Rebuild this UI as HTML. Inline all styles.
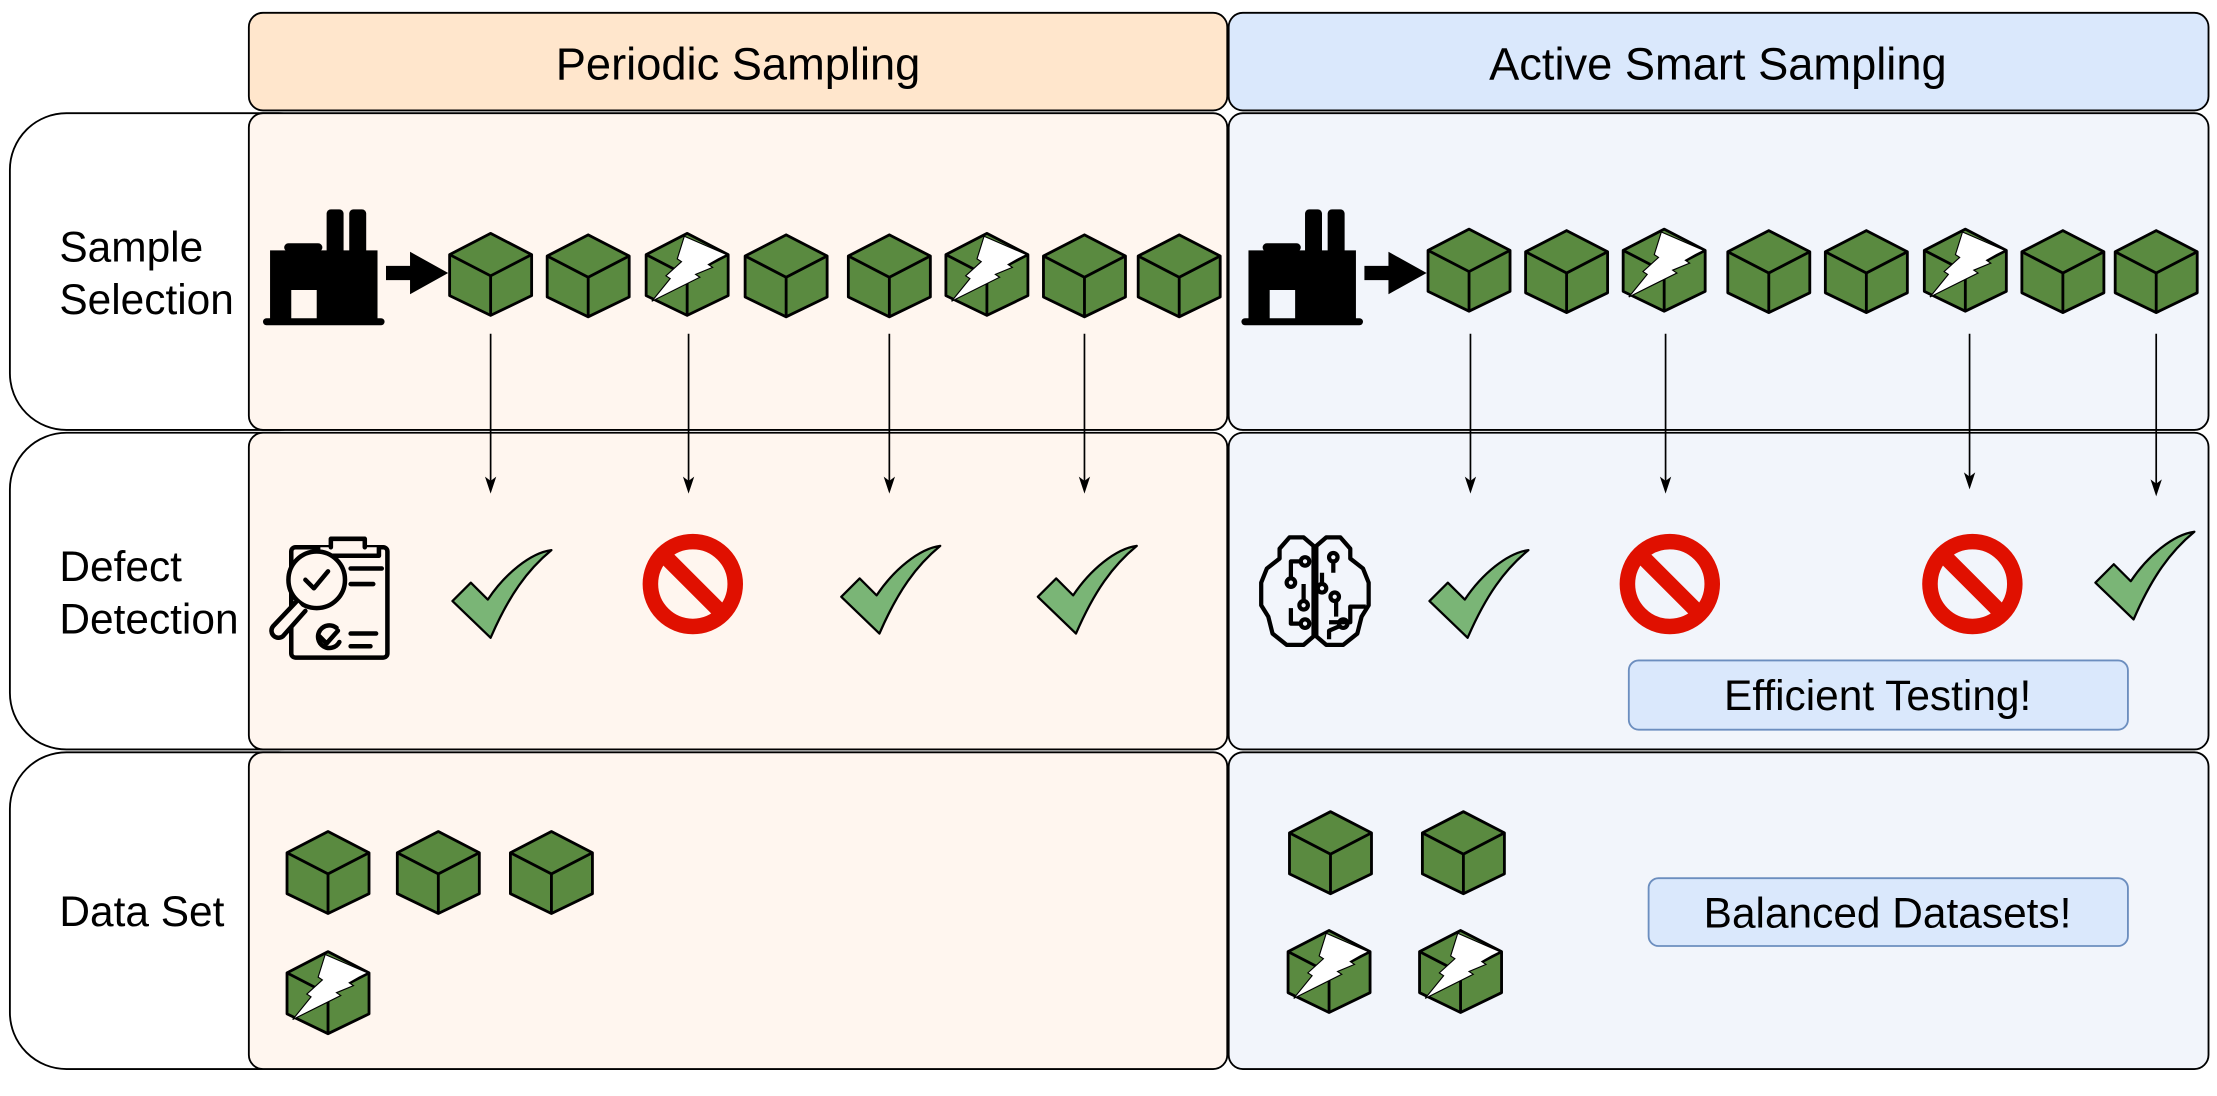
<!DOCTYPE html>
<html><head><meta charset="utf-8"><style>
html,body{margin:0;padding:0;background:#fff;}
svg{display:block;}
text{font-family:"Liberation Sans",Arial,sans-serif;fill:#000;}
</style></head><body>
<svg width="2217" height="1096" viewBox="0 0 1568 775" xmlns="http://www.w3.org/2000/svg">
<defs>
<g id="cube">
<polygon points="0,-29 29,-14 29,15 0,29 -29,15 -29,-14" fill="#5a8a40" stroke="#000" stroke-width="2" stroke-linejoin="round"/>
<polyline points="-29,-14 0,1 29,-14" fill="none" stroke="#000" stroke-width="2"/>
<line x1="0" y1="1" x2="0" y2="29" stroke="#000" stroke-width="2"/>
</g>
<g id="ccube">
<use href="#cube"/>
<polygon points="-2,-27 28,-14 22,-11 15,-7 18,-5 6,0 9,2 -25,19 -12,3 -15,1 -4,-9 -7,-11" fill="#fff" stroke="#000" stroke-width="0.8"/>
</g>
<g id="check">
<path d="M-35,4 L-22,-9 L-10,3 C2,-15 20,-30 35,-32 C18,-18 5,0 -8,30 Z" fill="#7ab576" stroke="#000" stroke-width="1.6" stroke-linejoin="round"/>
</g>
<g id="no">
<circle cx="0" cy="0" r="30" fill="none" stroke="#e01000" stroke-width="11"/>
<line x1="-21" y1="-21" x2="21" y2="21" stroke="#e01000" stroke-width="11"/>
</g>
<g id="factory" fill="#000">
<rect x="45" y="0" width="12" height="32" rx="3"/>
<rect x="61" y="0" width="12" height="32" rx="3"/>
<rect x="15" y="24" width="27" height="6" rx="3"/>
<path d="M5,29 H81 V79 H5 Z M20,57 V79 H38 V57 Z" fill-rule="evenodd"/>
<rect x="0" y="77" width="86" height="5" rx="2.5"/>
</g>
<g id="ah"><path d="M-4,-12 L0,0 L4,-12 L0,-9 Z" fill="#000"/></g>
</defs>

<!-- row labels -->
<g fill="#fff" stroke="#000" stroke-width="1.3">
<rect x="7" y="80" width="230" height="224" rx="40"/>
<rect x="7" y="306" width="230" height="224" rx="40"/>
<rect x="7" y="532" width="230" height="224" rx="40"/>
</g>
<!-- headers -->
<rect x="176" y="9" width="692" height="69" rx="10" fill="#ffe6cc" stroke="#000" stroke-width="1.3"/>
<rect x="869" y="9" width="693" height="69" rx="10" fill="#dae8fc" stroke="#000" stroke-width="1.3"/>
<text x="522" y="56" font-size="32" text-anchor="middle">Periodic Sampling</text>
<text x="1215" y="56" font-size="32" text-anchor="middle">Active Smart Sampling</text>
<!-- panels -->
<g stroke="#000" stroke-width="1.3">
<rect x="176" y="80" width="692" height="224" rx="10" fill="#fff6ef"/>
<rect x="176" y="306" width="692" height="224" rx="10" fill="#fff6ef"/>
<rect x="176" y="532" width="692" height="224" rx="10" fill="#fff6ef"/>
<rect x="869" y="80" width="693" height="224" rx="10" fill="#f2f5fb"/>
<rect x="869" y="306" width="693" height="224" rx="10" fill="#f2f5fb"/>
<rect x="869" y="532" width="693" height="224" rx="10" fill="#f2f5fb"/>
</g>
<g font-size="30">
<text x="42" y="185">Sample</text><text x="42" y="222">Selection</text>
<text x="42" y="411">Defect</text><text x="42" y="448">Detection</text>
<text x="42" y="655">Data Set</text>
</g>

<!-- row 1 -->
<use href="#factory" x="186" y="148"/>
<use href="#factory" x="878" y="148"/>
<path d="M273,188 H290 V178 L317,193 L290,208 V198 H273 Z" fill="#000"/>
<path d="M965,188 H982 V178 L1009,193 L982,208 V198 H965 Z" fill="#000"/>
<use href="#cube" x="347" y="194"/><use href="#cube" x="416" y="195"/><use href="#ccube" x="486" y="194"/>
<use href="#cube" x="556" y="195"/><use href="#cube" x="629" y="195"/><use href="#ccube" x="698" y="194"/>
<use href="#cube" x="767" y="195"/><use href="#cube" x="834" y="195"/>
<use href="#cube" x="1039" y="191"/><use href="#cube" x="1108" y="192"/><use href="#ccube" x="1177" y="191"/>
<use href="#cube" x="1251" y="192"/><use href="#cube" x="1320" y="192"/><use href="#ccube" x="1390" y="191"/>
<use href="#cube" x="1459" y="192"/><use href="#cube" x="1525" y="192"/>
<g stroke="#000" stroke-width="1.2">
<line x1="347" y1="236" x2="347" y2="340"/><line x1="487" y1="236" x2="487" y2="340"/>
<line x1="629" y1="236" x2="629" y2="340"/><line x1="767" y1="236" x2="767" y2="340"/>
<line x1="1040" y1="236" x2="1040" y2="340"/><line x1="1178" y1="236" x2="1178" y2="340"/>
<line x1="1393" y1="236" x2="1393" y2="338"/><line x1="1525" y1="236" x2="1525" y2="342"/>
</g>
<use href="#ah" x="347" y="349"/><use href="#ah" x="487" y="349"/><use href="#ah" x="629" y="349"/><use href="#ah" x="767" y="349"/>
<use href="#ah" x="1040" y="349"/><use href="#ah" x="1178" y="349"/><use href="#ah" x="1393" y="346"/><use href="#ah" x="1525" y="351"/>

<!-- row 2 -->
<g fill="none" stroke="#000" stroke-width="3.2" stroke-linecap="round" stroke-linejoin="round">
<rect x="206" y="387" width="68" height="78" rx="3"/>
<path d="M225,387 V393 H268 V387 M234,387 V381 H258 V387" fill="#fff6ef"/>
<circle cx="224" cy="410" r="20" fill="#fff6ef"/>
<path d="M216,410 L222,416 L232,404"/>
<path d="M210,425 L193,443 A5,5 0 0 0 200,450 L216,432" fill="#fff6ef"/>
<path d="M248,402 H270 M248,413 H264 M248,448 H266 M248,457 H262"/>
<path d="M238,444 A8,8 0 1 0 240,454 M226,450 L231,455 L239,446"/>
</g>
<g fill="none" stroke="#000" stroke-width="3" stroke-linejoin="round">
<path d="M929,386 L922,380 L912,380 L905,388 L905,395 L896,402 L892,412 L892,428 L897,436 L900,448 L910,456 L922,456 L929,450 Z"/>
<path d="M931,386 L938,380 L948,380 L955,388 L955,395 L964,402 L968,412 L968,428 L963,436 L960,448 L950,456 L938,456 L931,450 Z"/>
<path d="M930,386 V450"/>
<path d="M920,397 H913 V409 M922,413 V425 M913,430 V441 H920 M943,397 V405 M935,405 V413 M945,425 V436 M940,440 H955 V429 H966 M940,452 V446 L947,443"/>
<circle cx="923" cy="397" r="3"/><circle cx="913" cy="412" r="3"/><circle cx="922" cy="428" r="3"/><circle cx="923" cy="441" r="3"/>
<circle cx="943" cy="394" r="3"/><circle cx="935" cy="416" r="3"/><circle cx="944" cy="422" r="3"/><circle cx="950" cy="441" r="3"/>
</g>
<use href="#check" x="355" y="421"/><use href="#no" x="490" y="413"/>
<use href="#check" x="630" y="418"/><use href="#check" x="769" y="418"/>
<use href="#check" x="1046" y="421"/><use href="#no" x="1181" y="413"/>
<use href="#no" x="1395" y="413"/><use href="#check" x="1517" y="408"/>
<rect x="1152" y="467" width="353" height="49" rx="7" fill="#dae8fc" stroke="#6c8ebf" stroke-width="1.3"/>
<text x="1328" y="502" font-size="30" text-anchor="middle">Efficient Testing!</text>

<!-- row 3 -->
<use href="#cube" x="232" y="617"/><use href="#cube" x="310" y="617"/><use href="#cube" x="390" y="617"/>
<use href="#ccube" x="232" y="702"/>
<use href="#cube" x="941" y="603"/><use href="#cube" x="1035" y="603"/>
<use href="#ccube" x="940" y="687"/><use href="#ccube" x="1033" y="687"/>
<rect x="1166" y="621" width="339" height="48" rx="7" fill="#dae8fc" stroke="#6c8ebf" stroke-width="1.3"/>
<text x="1335" y="656" font-size="30" text-anchor="middle">Balanced Datasets!</text>
</svg>
</body></html>
